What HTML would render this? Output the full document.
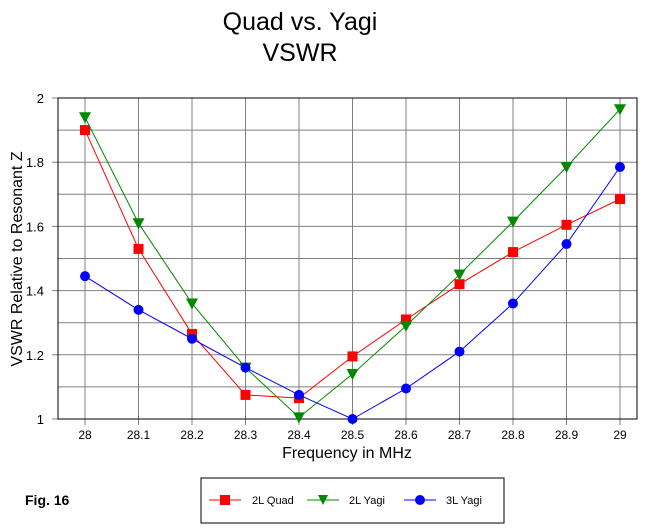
<!DOCTYPE html>
<html><head><meta charset="utf-8"><style>
body{margin:0;background:#fff;}
svg{display:block;font-family:"Liberation Sans",Arial,sans-serif;}
</style></head><body>
<svg id="chart" width="647" height="529" viewBox="0 0 647 529">
<text x="300" y="30" font-size="25" text-anchor="middle">Quad vs. Yagi</text>
<text x="300" y="61" font-size="25" text-anchor="middle">VSWR</text>
<g id="grid"></g>
<g id="axes"></g>
<g id="series"></g>
<text x="347" y="458" font-size="16" text-anchor="middle">Frequency in MHz</text>
<text transform="translate(22,259) rotate(-90)" font-size="16" text-anchor="middle">VSWR Relative to Resonant Z</text>
<text x="25" y="505" font-size="14" font-weight="bold">Fig. 16</text>
<g>
<rect x="201" y="478" width="303" height="45" fill="#fff" stroke="#000"/>
<line x1="209" y1="500" x2="241" y2="500" stroke="#f00"/><rect x="220" y="495" width="10" height="10" fill="#f00"/>
<text x="252" y="504" font-size="11">2L Quad</text>
<line x1="307" y1="500" x2="339" y2="500" stroke="#080"/><polygon points="318,495 328,495 323,505" fill="#080"/>
<text x="349" y="504" font-size="11">2L Yagi</text>
<line x1="404" y1="500" x2="436" y2="500" stroke="#00f"/><circle cx="420" cy="500" r="5" fill="#00f"/>
<text x="446" y="504" font-size="11">3L Yagi</text>
</g>
</svg>
<script>
const categories=[28,28.1,28.2,28.3,28.4,28.5,28.6,28.7,28.8,28.9,29];
const quad2L=[1.90,1.53,1.265,1.075,1.065,1.195,1.31,1.42,1.52,1.605,1.685];
const yagi2L=[1.94,1.61,1.36,1.16,1.005,1.14,1.29,1.45,1.615,1.785,1.965];
const yagi3L=[1.445,1.34,1.25,1.16,1.075,1.0,1.095,1.21,1.36,1.545,1.785];
const yTicks=[1,1.2,1.4,1.6,1.8,2];
const L=58,R=637,T=98,B=419;
const xs=v=>85+(v-28)*535;
const ys=v=>B-(v-1)*(B-T);
const NS="http://www.w3.org/2000/svg";
function mk(tag,attrs,parent){const e=document.createElementNS(NS,tag);for(const k in attrs)e.setAttribute(k,attrs[k]);parent.appendChild(e);return e;}
const grid=document.getElementById('grid'),axes=document.getElementById('axes'),ser=document.getElementById('series');
mk('rect',{x:L,y:T,width:R-L,height:B-T,fill:'#fff',stroke:'none'},grid);
for(let i=1;i<10;i++){const g=mk('line',{x1:L,x2:R,y1:ys(1+i*0.1),y2:ys(1+i*0.1),stroke:'#808080'},grid);

}
categories.forEach(c=>{const g=mk('line',{x1:xs(c),x2:xs(c),y1:T,y2:B+6,stroke:'#808080'},grid);


const t=mk('text',{x:xs(c),y:B+20,'font-size':12,'text-anchor':'middle'},axes);t.textContent=c;

});
yTicks.forEach(v=>{const t=mk('text',{x:L-14,y:ys(v)+5,'font-size':13,'text-anchor':'end'},axes);t.textContent=v;


mk('line',{x1:L-6,x2:L,y1:ys(v),y2:ys(v),stroke:'#808080'},axes);});
mk('rect',{x:L,y:T,width:R-L,height:B-T,fill:'none',stroke:'#000'},axes);
function series(vals,color,shape,name){
const g=mk('g',{},ser);


mk('polyline',{points:vals.map((v,i)=>xs(categories[i])+','+ys(v)).join(' '),fill:'none',stroke:color},g);
vals.forEach((v,i)=>{const x=xs(categories[i]),y=ys(v);let m;
if(shape==='sq')m=mk('rect',{x:x-5,y:y-5,width:10,height:10,fill:color},g);
else if(shape==='tri')m=mk('polygon',{points:`${x-6},${y-5} ${x+6},${y-5} ${x},${y+6}`,fill:color},g);
else m=mk('circle',{cx:x,cy:y,r:5,fill:color},g);

});}
series(quad2L,'#f00','sq','series-2l-quad');
series(yagi2L,'#080','tri','series-2l-yagi');
series(yagi3L,'#00f','circ','series-3l-yagi');
</script>
</body></html>
